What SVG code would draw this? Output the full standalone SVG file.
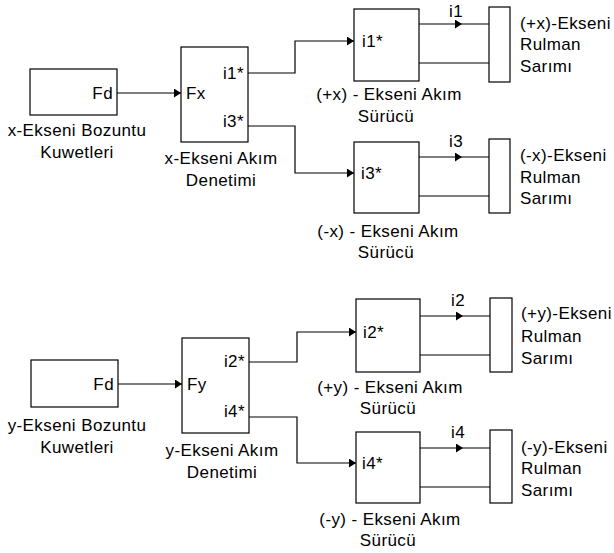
<svg xmlns="http://www.w3.org/2000/svg" width="614" height="553" viewBox="0 0 614 553">
<defs>
<style>
.b{fill:#fff;stroke:#000;stroke-width:1.2}
.c{fill:none;stroke:#000;stroke-width:1.2}
text{font-family:"Liberation Sans",Arial,sans-serif;font-size:17px;letter-spacing:0.4px;fill:#000}
.m{text-anchor:middle}
.e{text-anchor:end}
</style>
<marker id="ah" markerWidth="7" markerHeight="9" refX="7" refY="4.5" orient="auto" markerUnits="userSpaceOnUse">
<path d="M0,0 L7,4.5 L0,9 z" fill="#000"/>
</marker>
</defs>
<rect width="614" height="553" fill="#fff"/>
<g id="connectors">
<path class="c" d="M117,93 H181" marker-end="url(#ah)"/>
<path class="c" d="M248,73 H295 V41 H354" marker-end="url(#ah)"/>
<path class="c" d="M248,126 H295 V173 H354" marker-end="url(#ah)"/>
<path class="c" d="M419,24 L462,24 L489,24" marker-mid="url(#ah)"/>
<path class="c" d="M419,63 H489"/>
<path class="c" d="M419,157 L462,157 L489,157" marker-mid="url(#ah)"/>
<path class="c" d="M419,196 H489"/>
<path class="c" d="M118,384 H182" marker-end="url(#ah)"/>
<path class="c" d="M249,362 H297 V332 H356" marker-end="url(#ah)"/>
<path class="c" d="M249,417 H297 V463 H356" marker-end="url(#ah)"/>
<path class="c" d="M420,316 L463,316 L490,316" marker-mid="url(#ah)"/>
<path class="c" d="M420,355 H490"/>
<path class="c" d="M420,448 L463,448 L490,448" marker-mid="url(#ah)"/>
<path class="c" d="M420,487 H490"/>
</g>
<g id="x-bozuntu">
<rect class="b" x="30" y="69" width="87" height="46"/>
<text class="e" x="113" y="99">Fd</text>
<text class="m" x="77" y="136">x-Ekseni Bozuntu</text>
<text class="m" x="77" y="158">Kuwetleri</text>
</g>
<g id="x-denetim">
<rect class="b" x="181" y="47" width="67" height="95"/>
<text x="186" y="99">Fx</text>
<text class="e" x="244" y="79">i1*</text>
<text class="e" x="244" y="127">i3*</text>
<text class="m" x="221" y="164">x-Ekseni Akım</text>
<text class="m" x="221" y="186">Denetimi</text>
</g>
<g id="px-surucu">
<rect class="b" x="354" y="9" width="65" height="72"/>
<text x="362" y="47">i1*</text>
<text class="m" x="389" y="100">(+x) - Ekseni Akım</text>
<text class="m" x="386" y="122">Sürücü</text>
</g>
<g id="px-sarim">
<rect class="b" x="489" y="7" width="21" height="75"/>
<text class="m" x="456" y="17">i1</text>
<text x="520" y="29">(+x)-Ekseni</text>
<text x="520" y="50">Rulman</text>
<text x="520" y="72">Sarımı</text>
</g>
<g id="nx-surucu">
<rect class="b" x="354" y="142" width="65" height="71"/>
<text x="361" y="179">i3*</text>
<text class="m" x="388" y="237">(-x) - Ekseni Akım</text>
<text class="m" x="386" y="258">Sürücü</text>
</g>
<g id="nx-sarim">
<rect class="b" x="489" y="139" width="21" height="74"/>
<text class="m" x="456" y="147">i3</text>
<text x="520" y="161">(-x)-Ekseni</text>
<text x="520" y="183">Rulman</text>
<text x="520" y="204">Sarımı</text>
</g>
<g id="y-bozuntu">
<rect class="b" x="31" y="360" width="87" height="47"/>
<text class="e" x="114" y="390">Fd</text>
<text class="m" x="77" y="431">y-Ekseni Bozuntu</text>
<text class="m" x="77" y="453">Kuwetleri</text>
</g>
<g id="y-denetim">
<rect class="b" x="182" y="338" width="67" height="95"/>
<text x="187" y="390">Fy</text>
<text class="e" x="245" y="367">i2*</text>
<text class="e" x="245" y="417">i4*</text>
<text class="m" x="222" y="456">y-Ekseni Akım</text>
<text class="m" x="222" y="478">Denetimi</text>
</g>
<g id="py-surucu">
<rect class="b" x="356" y="299" width="64" height="73"/>
<text x="363" y="338">i2*</text>
<text class="m" x="390" y="393">(+y) - Ekseni Akım</text>
<text class="m" x="388" y="414">Sürücü</text>
</g>
<g id="py-sarim">
<rect class="b" x="490" y="298" width="22" height="74"/>
<text class="m" x="458" y="306">i2</text>
<text x="521" y="319">(+y)-Ekseni</text>
<text x="521" y="342">Rulman</text>
<text x="521" y="364">Sarımı</text>
</g>
<g id="ny-surucu">
<rect class="b" x="356" y="432" width="64" height="71"/>
<text x="362" y="469">i4*</text>
<text class="m" x="390" y="525">(-y) - Ekseni Akım</text>
<text class="m" x="388" y="546">Sürücü</text>
</g>
<g id="ny-sarim">
<rect class="b" x="490" y="430" width="22" height="73"/>
<text class="m" x="458" y="438">i4</text>
<text x="521" y="453">(-y)-Ekseni</text>
<text x="521" y="474">Rulman</text>
<text x="521" y="496">Sarımı</text>
</g>
</svg>
